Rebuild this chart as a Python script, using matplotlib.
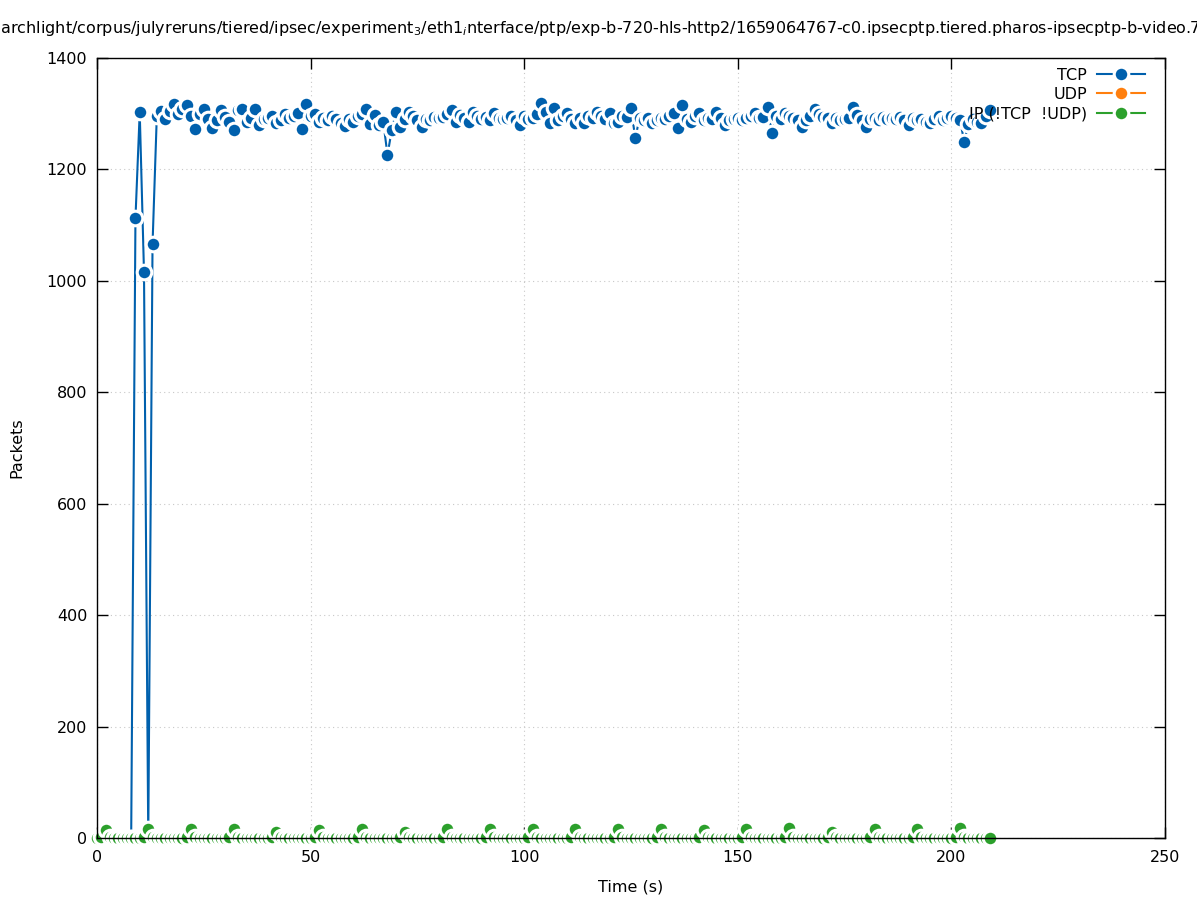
import matplotlib
matplotlib.use("Agg")
import matplotlib.pyplot as plt
import numpy as np

# packets per second, one sample per second starting at t=0
tcp_packets = [
    0, 0, 0, 0, 0, 0, 0, 0, 0, 1112,
    1303, 1016, 0, 1066, 1296, 1304, 1290, 1305, 1318, 1300,
    1308, 1316, 1296, 1272, 1300, 1308, 1290, 1275, 1288, 1306,
    1294, 1285, 1270, 1306, 1309, 1286, 1292, 1308, 1280, 1290,
    1292, 1296, 1283, 1288, 1300, 1292, 1296, 1302, 1272, 1318,
    1296, 1300, 1286, 1292, 1288, 1296, 1290, 1284, 1278, 1290,
    1286, 1296, 1300, 1308, 1282, 1298, 1280, 1286, 1226, 1271,
    1303, 1277, 1290, 1303, 1296, 1288, 1277, 1290, 1288, 1295,
    1292, 1295, 1300, 1307, 1286, 1298, 1292, 1286, 1303, 1296,
    1290, 1295, 1288, 1301, 1292, 1290, 1292, 1296, 1288, 1280,
    1296, 1290, 1292, 1300, 1320, 1303, 1284, 1310, 1289, 1296,
    1301, 1290, 1283, 1292, 1283, 1296, 1292, 1303, 1296, 1290,
    1301, 1284, 1286, 1296, 1295, 1310, 1256, 1292, 1288, 1292,
    1284, 1289, 1292, 1290, 1296, 1301, 1274, 1316, 1290, 1286,
    1296, 1301, 1288, 1292, 1290, 1303, 1292, 1280, 1288, 1290,
    1292, 1288, 1292, 1296, 1301, 1292, 1295, 1312, 1265, 1296,
    1290, 1301, 1296, 1292, 1288, 1276, 1289, 1296, 1308, 1300,
    1295, 1292, 1283, 1292, 1288, 1290, 1292, 1312, 1298, 1288,
    1276, 1290, 1292, 1288, 1295, 1290, 1292, 1290, 1295, 1288,
    1280, 1292, 1288, 1290, 1286, 1283, 1290, 1296, 1289, 1292,
    1296, 1292, 1289, 1250, 1282, 1290, 1286, 1283, 1296, 1307,
]
udp_packets = []
other_packets = [
    0, 1, 15, 1, 0, 0, 0, 0, 0, 0,
    0, 1, 16, 1, 0, 0, 0, 0, 0, 0,
    0, 1, 16, 1, 0, 0, 0, 0, 0, 0,
    0, 1, 16, 1, 0, 0, 0, 0, 0, 0,
    0, 1, 10, 1, 0, 0, 0, 0, 0, 0,
    0, 1, 15, 1, 0, 0, 0, 0, 0, 0,
    0, 1, 16, 1, 0, 0, 0, 0, 0, 0,
    0, 1, 10, 1, 0, 0, 0, 0, 0, 0,
    0, 1, 16, 1, 0, 0, 0, 0, 0, 0,
    0, 1, 16, 1, 0, 0, 0, 0, 0, 0,
    0, 1, 16, 1, 0, 0, 0, 0, 0, 0,
    0, 1, 16, 1, 0, 0, 0, 0, 0, 0,
    0, 1, 16, 1, 0, 0, 0, 0, 0, 0,
    0, 1, 16, 1, 0, 0, 0, 0, 0, 0,
    0, 1, 15, 1, 0, 0, 0, 0, 0, 0,
    0, 1, 16, 1, 0, 0, 0, 0, 0, 0,
    0, 1, 18, 1, 0, 0, 0, 0, 0, 0,
    0, 1, 11, 1, 0, 0, 0, 0, 0, 0,
    0, 1, 16, 1, 0, 0, 0, 0, 0, 0,
    0, 1, 16, 1, 0, 0, 0, 0, 0, 0,
    0, 1, 18, 1, 0, 0, 0, 0, 0, 0,
]
tcp_time = np.arange(len(tcp_packets))
other_time = np.arange(len(other_packets))

title = ("/searchlight/corpus/julyreruns/tiered/ipsec/experiment$_3$/eth1$_i$nterface/ptp/"
         "exp-b-720-hls-http2/1659064767-c0.ipsecptp.tiered.pharos-ipsecptp-b-video.720")

colors = {"tcp": "#0060ad", "udp": "#ff7f0e", "other": "#2ca02c"}
style = dict(marker="o", markersize=10.5, markeredgecolor="white",
             markeredgewidth=2.2, linewidth=1.5)

fig = plt.figure(figsize=(11.97, 9.0), dpi=100)
ax = fig.add_axes([97 / 1197, 1 - 838 / 900, (1165 - 97) / 1197, (838 - 58) / 900])

ax.plot(tcp_time, tcp_packets, color=colors["tcp"], label="TCP", clip_on=False, **style)
ax.plot(udp_packets, udp_packets, color=colors["udp"], label="UDP", **style)
ax.plot(other_time, other_packets, color=colors["other"], label="IP (!TCP  !UDP)",
        clip_on=False, **style)

ax.set_xlim(0, 250)
ax.set_ylim(0, 1400)
ax.set_xticks(range(0, 251, 50))
ax.set_yticks(range(0, 1401, 200))
ax.tick_params(axis="both", direction="in", length=8, width=1, top=True, right=True,
               labelsize=11.5)
ax.tick_params(axis="x", pad=9)
ax.tick_params(axis="y", pad=7)
ax.grid(True, color="#c8c8c8", linestyle=(0, (1, 3)), linewidth=0.8)
for sp in ax.spines.values():
    sp.set_linewidth(1)

ax.set_xlabel("Time (s)", fontsize=11.5, labelpad=10)
ax.set_ylabel("Packets", fontsize=11.5, labelpad=16)

fig.text(0.5, 1 - 28 / 900, title, ha="center", va="center", fontsize=11.5)

leg = ax.legend(loc="upper right", bbox_to_anchor=(0.99, 1.0), markerfirst=False,
                frameon=False, fontsize=11.5, handlelength=3.0, labelspacing=0.27,
                handletextpad=0.6, borderaxespad=0.2)

fig.savefig("out.png", dpi=100)
